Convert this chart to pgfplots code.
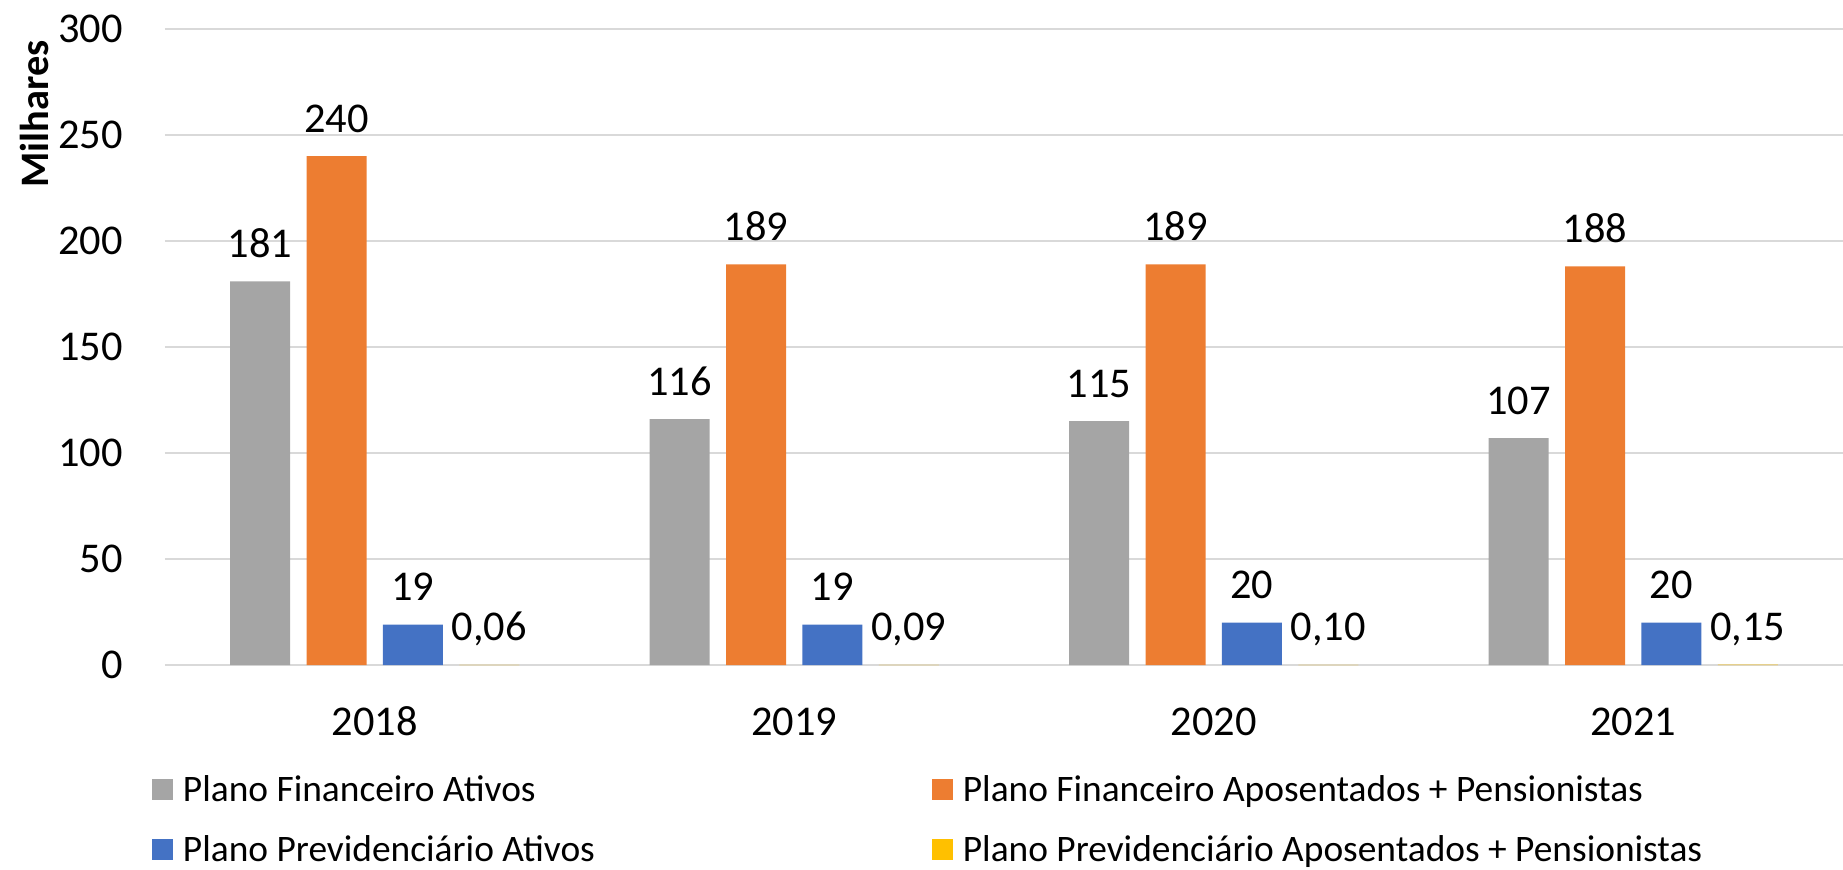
\documentclass[border=0pt]{standalone}
\usepackage{pgfplots}
\pgfplotsset{compat=1.18}
\usepackage{pgfplotstable}
\usepackage{fontspec}
\setmainfont{Carlito}
\definecolor{cgray}{HTML}{A5A5A5}
\definecolor{corange}{HTML}{ED7D31}
\definecolor{cblue}{HTML}{4472C4}
\definecolor{cyellow}{HTML}{FFC000}
\definecolor{cgrid}{HTML}{D9D9D9}
\newcommand\tf{\fontsize{21.2}{25}\selectfont}
\newcommand\lf{\fontsize{18.7}{22}\selectfont}
\pgfplotstableread{
x a la b lb c lc d ld
0 181 181 240 240 19 19 0.06 0,06
1 116 116 189 189 19 19 0.09 0,09
2 115 115 189 189 20 20 0.10 0,10
3 107 107 188 188 20 20 0.15 0,15
}\data
\begin{document}
\begin{tikzpicture}
\useasboundingbox (-82.5pt,-102pt) rectangle (839pt,332.5pt);
\begin{axis}[
  scale only axis, width=839pt, height=318pt,
  xmin=-0.5, xmax=3.5, ymin=0, ymax=300,
  ybar=8.2pt, bar width=30pt,
  axis line style={draw=none},
  major tick length=0pt,
  ymajorgrids, grid style={cgrid, line width=1pt},
  ytick={0,50,...,300},
  xtick={0,1,2,3}, xticklabels={2018,2019,2020,2021},
  /pgf/number format/assume math mode=true,
  tick label style={font=\tf},
  xticklabel style={anchor=base, inner sep=0pt, yshift=-35pt},
  yticklabel style={anchor=east, inner sep=0pt, xshift=-21pt},
  nodes near coords,
  point meta=explicit symbolic,
  every node near coord/.append style={font=\tf, anchor=base, inner sep=0pt, yshift=12pt, text=black},
  legend columns=2,
  legend cell align=left,
  legend image code/.code={\fill[#1] (0pt,-5.25pt) rectangle (10.5pt,5.25pt);},
  legend style={at={(0,0)}, anchor=north west, xshift=-6.5pt, yshift=-56pt,
    draw=none, fill=none, inner sep=0pt, outer sep=0pt, row sep=18pt,
    nodes={inner sep=0pt, font=\lf, text height=12pt, text depth=0pt},
    /tikz/every odd column/.append style={column sep=5pt},
    /tikz/every even column/.append style={column sep=168.5pt}},
]
\addplot[fill=cgray, draw=none] table[x=x, y=a, meta=la] {\data};
\addlegendentry{Plano Financeiro Ativos}
\addplot[fill=corange, draw=none] table[x=x, y=b, meta=lb] {\data};
\addlegendentry{Plano Financeiro Aposentados + Pensionistas}
\addplot[fill=cblue, draw=none] table[x=x, y=c, meta=lc] {\data};
\addlegendentry{Plano Previdenciário Ativos}
\addplot[fill=cyellow, draw=none] table[x=x, y=d, meta=ld] {\data};
\addlegendentry{Plano Previdenciário Aposentados + Pensionistas}
\end{axis}
\node[rotate=90, font=\bfseries\fontsize{20.2}{24}\selectfont, inner sep=0pt] at (-65.5pt,275.5pt) {Milhares};
\end{tikzpicture}
\end{document}
